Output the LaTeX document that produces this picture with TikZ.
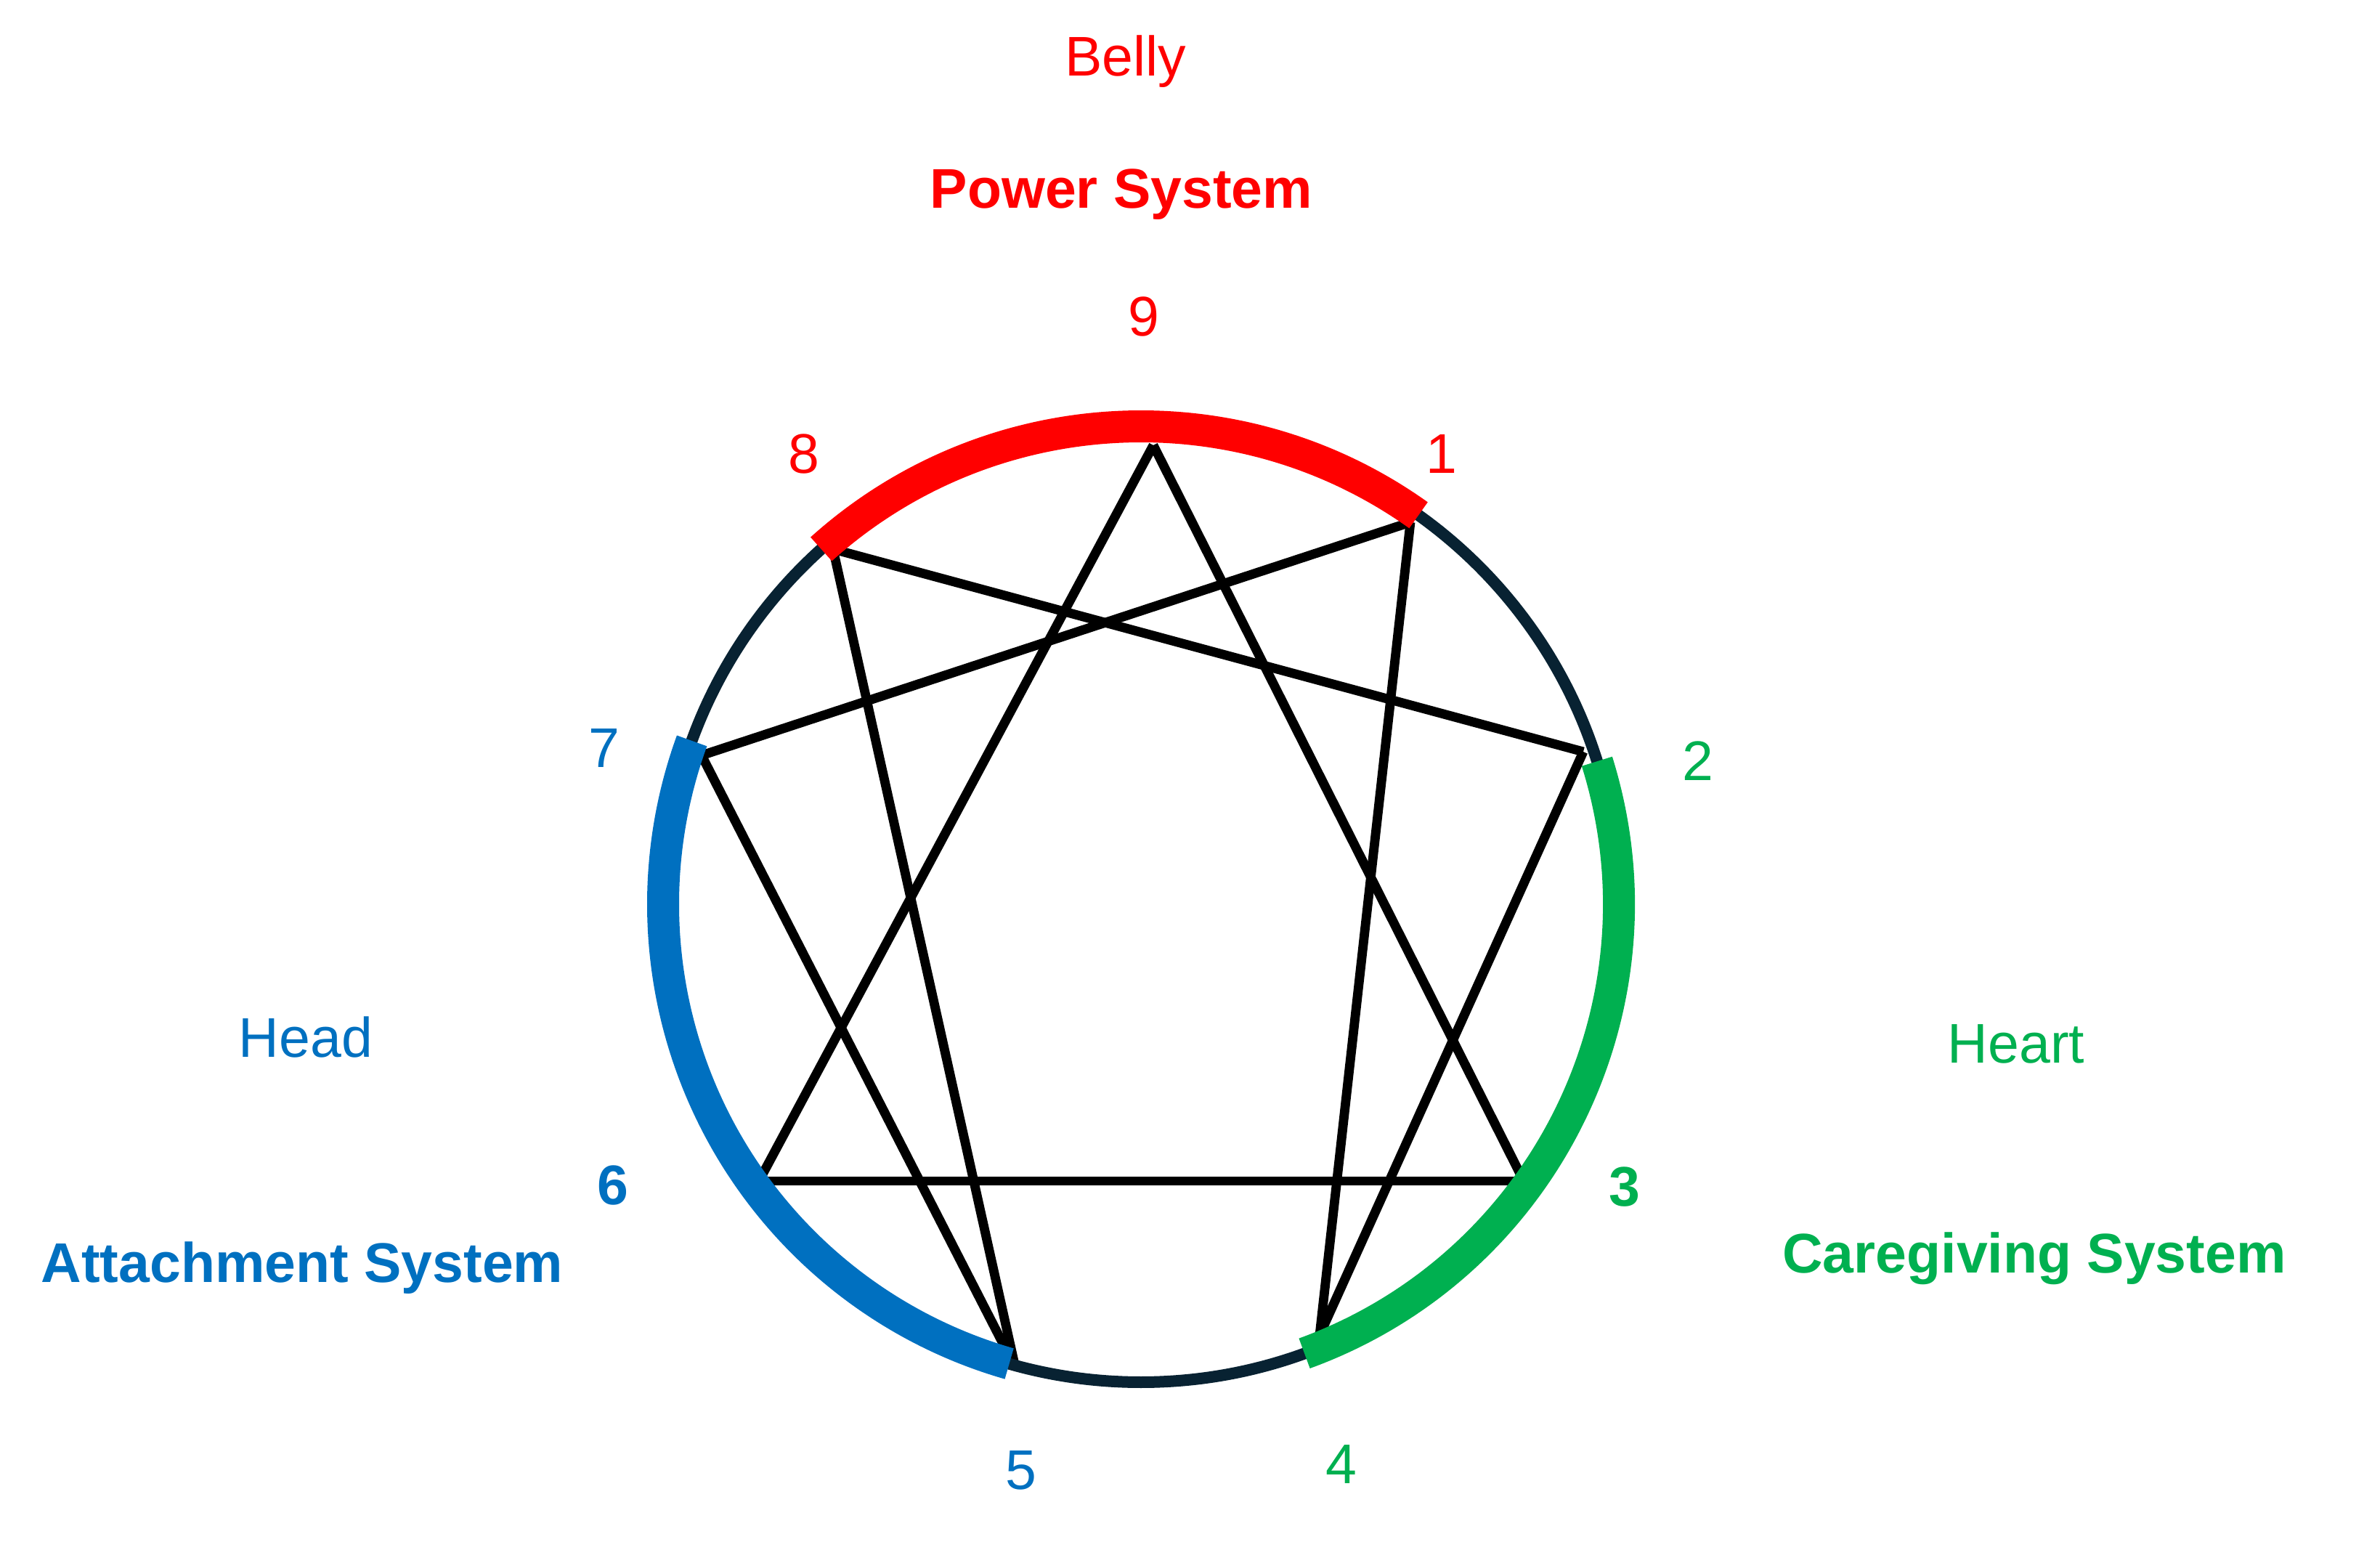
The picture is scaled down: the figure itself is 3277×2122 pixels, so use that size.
\documentclass[tikz,border=0pt]{standalone}
\usepackage{fontspec}
\setmainfont{Liberation Sans}
\definecolor{pred}{HTML}{FF0000}
\definecolor{pgreen}{HTML}{00B050}
\definecolor{pblue}{HTML}{0070C0}
\definecolor{pnavy}{HTML}{082232}
\begin{document}
\begin{tikzpicture}[x=0.25pt,y=0.25pt,
  lbl/.style={font=\fontsize{19.25pt}{23pt}\selectfont, anchor=base, inner sep=0pt},
  bld/.style={font=\fontsize{19.25pt}{23pt}\selectfont\bfseries, anchor=base, inner sep=0pt},
  starline/.style={line width=3.2pt, black},
  ring/.style={line width=4pt, pnavy},
  band/.style={line width=11pt}]
\useasboundingbox (0,0) rectangle (3277,2122);
\coordinate (C) at (1571,877);
\coordinate (v9) at (1588,1509);
\coordinate (v1) at (1942,1403);
\coordinate (v2) at (2180,1087);
\coordinate (v3) at (2098,496);
\coordinate (v4) at (1817,284);
\coordinate (v5) at (1398,239);
\coordinate (v6) at (1045,496);
\coordinate (v7) at (966,1082);
\coordinate (v8) at (1147,1366);
% triangle
\draw[starline] (v9) -- (v3);
\draw[starline] (v3) -- (v6);
\draw[starline] (v6) -- (v9);
% hexad
\draw[starline] (v1) -- (v4);
\draw[starline] (v4) -- (v2);
\draw[starline] (v2) -- (v8);
\draw[starline] (v8) -- (v5);
\draw[starline] (v5) -- (v7);
\draw[starline] (v7) -- (v1);
% ring
\draw[ring] (C) circle[radius=658];
\draw[band, pred] ([shift={(54.5:658)}]C) arc[start angle=54.5, end angle=132, radius=658];
\draw[band, pgreen] ([shift={(-70:658)}]C) arc[start angle=-70, end angle=17.4, radius=658];
\draw[band, pblue] ([shift={(160:658)}]C) arc[start angle=160, end angle=254, radius=658];
% labels
\node[lbl, pred] (belly) at (1550,2017) {Belly};
\node[bld, pred] (power) at (1544,1835) {Power System};
\node[lbl, pred] (n9) at (1575,1659) {9};
\node[lbl, pred] (n8) at (1107,1470) {8};
\node[lbl, pred] (n1) at (1985,1470) {1};
\node[lbl, pblue] (n7) at (832,1065) {7};
\node[lbl, pgreen] (n2) at (2338,1047) {2};
\node[lbl, pblue] (head) at (421,666) {Head};
\node[lbl, pgreen] (heart) at (2776,658) {Heart};
\node[bld, pblue] (n6) at (844,464) {6};
\node[bld, pgreen] (n3) at (2237,462) {3};
\node[bld, pblue] (att) at (416,357) {Attachment System};
\node[bld, pgreen] (care) at (2801,369) {Caregiving System};
\node[lbl, pblue] (n5) at (1406,72) {5};
\node[lbl, pgreen] (n4) at (1847,80) {4};
\end{tikzpicture}
\end{document}
